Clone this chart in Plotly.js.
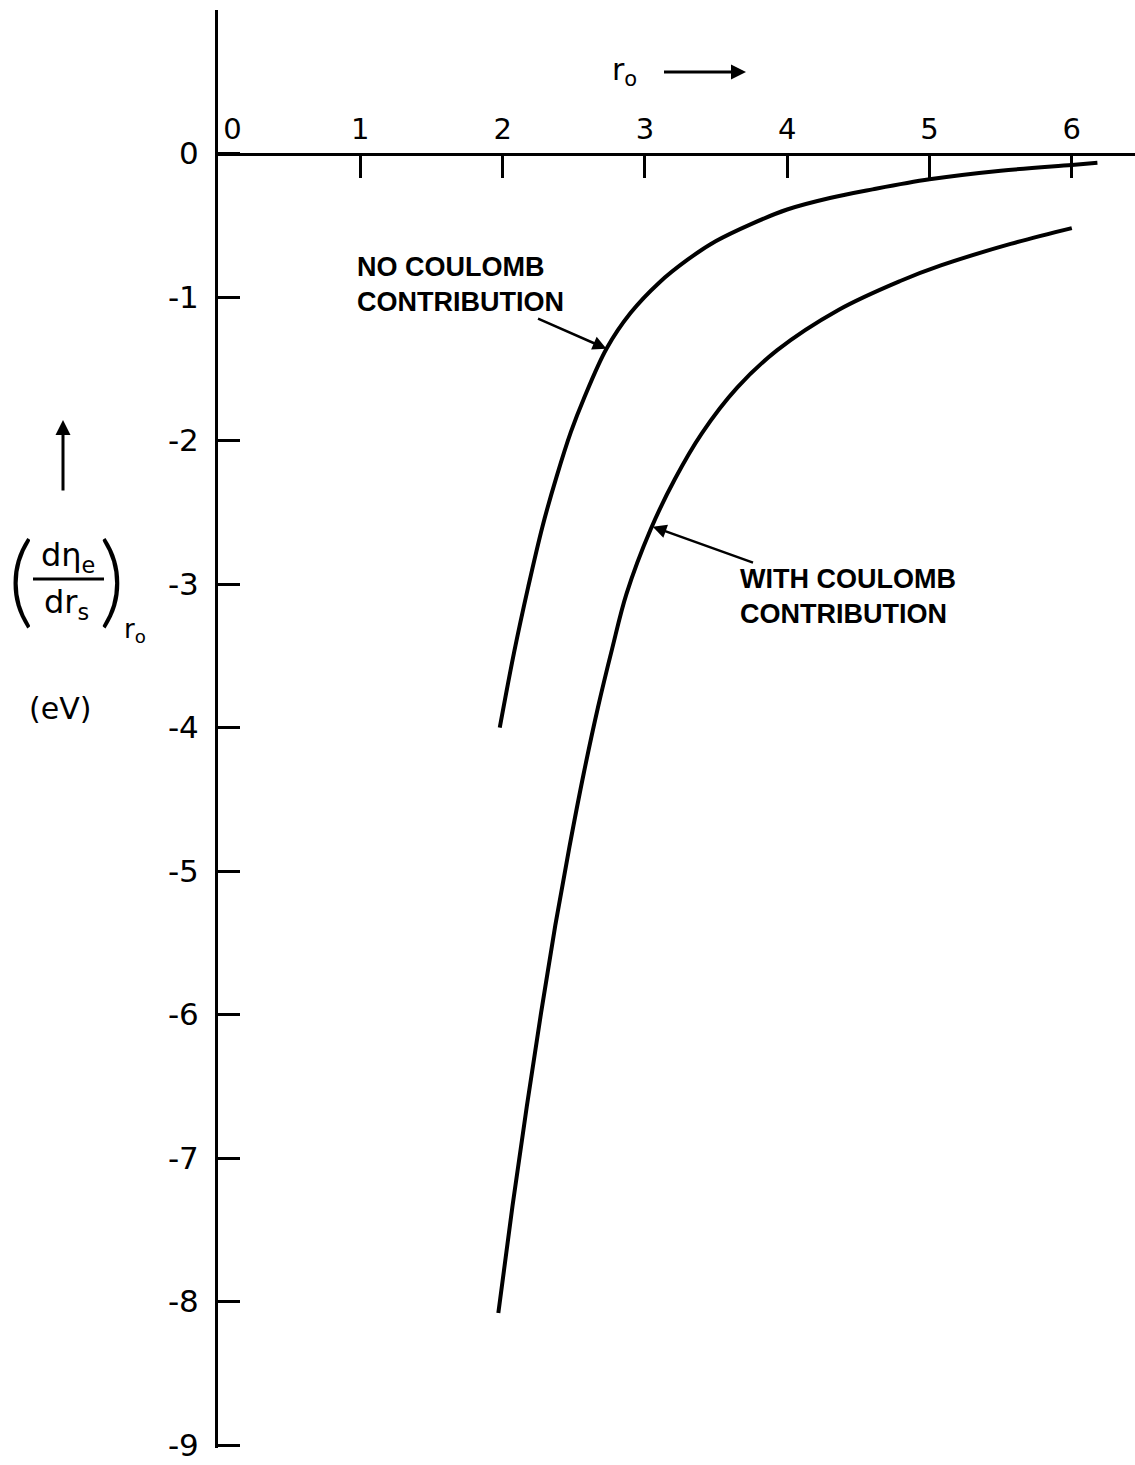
<!DOCTYPE html>
<html>
<head>
<meta charset="utf-8">
<script src="https://cdn.plot.ly/plotly-3.0.1.min.js"></script>
<style>html,body{margin:0;padding:0;background:#fff;}#chart{width:1135px;height:1465px;}</style>
</head>
<body>
<div id="chart"></div>
<script>
// ---- data ----
const r0NoCoulomb = [1.98, 2.08, 2.18, 2.28, 2.38, 2.48, 2.57, 2.73, 2.90, 3.10, 3.30, 3.50, 3.75, 4.00, 4.30, 4.60, 5.00, 5.50, 6.00, 6.18];
const dEtaNoCoulomb = [-4.00, -3.48, -3.02, -2.60, -2.25, -1.94, -1.71, -1.36, -1.11, -0.90, -0.74, -0.61, -0.49, -0.39, -0.31, -0.25, -0.18, -0.12, -0.08, -0.065];

const r0WithCoulomb = [1.97, 2.07, 2.17, 2.27, 2.37, 2.47, 2.57, 2.67, 2.77, 2.87, 3.04, 3.21, 3.40, 3.65, 3.93, 4.36, 4.79, 5.08, 5.57, 6.00];
const dEtaWithCoulomb = [-8.08, -7.33, -6.64, -5.99, -5.38, -4.83, -4.32, -3.86, -3.45, -3.07, -2.62, -2.27, -1.95, -1.63, -1.37, -1.09, -0.89, -0.78, -0.63, -0.52];

const xTickVals = [0, 1, 2, 3, 4, 5, 6];
const xTickText = ['\u20030', '1', '2', '3', '4', '5', '6'];
const yTickVals = [0, -1, -2, -3, -4, -5, -6, -7, -8, -9];
const yTickText = ['0', '-1', '-2', '-3', '-4', '-5', '-6', '-7', '-8', '-9'];

const labelNo = 'NO COULOMB<br>CONTRIBUTION';
const labelWith = 'WITH COULOMB<br>CONTRIBUTION';

// ---- figure ----
const FONT = 'Liberation Sans, Arial, sans-serif';
const TFONT = 'DejaVu Sans, sans-serif';
const lineStyle = {color: '#000', width: 4, shape: 'spline', smoothing: 1.0};

const traces = [
  {x: r0NoCoulomb, y: dEtaNoCoulomb, mode: 'lines', line: lineStyle, name: 'no coulomb', hoverinfo: 'skip'},
  {x: r0WithCoulomb, y: dEtaWithCoulomb, mode: 'lines', line: lineStyle, name: 'with coulomb', hoverinfo: 'skip'}
];

const W = 1135, H = 1465, ML = 218, MR = 0, MT = 10, MB = 17;
const PW = W - ML - MR, PH = H - MT - MB;
const Y0 = -9.02, Y1 = 1.0;
const px = v => (v - ML) / PW;          // pixel -> paper x
const py = v => 1 - (v - MT) / PH;      // pixel -> paper y
const pa = {xref: 'paper', yref: 'paper', xanchor: 'center', yanchor: 'middle', showarrow: false};

const annotations = [
  // curve labels with their pointer arrows
  {xref: 'x', yref: 'y', x: 2.73, y: -1.36, ax: -146, ay: -64, align: 'left',
   text: labelNo, showarrow: true, arrowhead: 2, arrowsize: 1.1, arrowwidth: 2.5, arrowcolor: '#000',
   font: {family: FONT, size: 27, color: '#000', weight: 'bold'}},
  {xref: 'x', yref: 'y', x: 3.055, y: -2.60, ax: 195, ay: 70, align: 'left',
   text: labelWith, showarrow: true, arrowhead: 2, arrowsize: 1.1, arrowwidth: 2.5, arrowcolor: '#000',
   font: {family: FONT, size: 27, color: '#000', weight: 'bold'}},
  // x axis title r_o -->
  Object.assign({}, pa, {x: px(746), y: py(72), ax: -122, ay: 0, showarrow: true, startstandoff: 26,
   text: 'r<sub>o</sub>', arrowhead: 2, arrowsize: 1.0, arrowwidth: 3, arrowcolor: '#000',
   font: {family: TFONT, size: 30, color: '#000'}}),
  // y axis title
  Object.assign({}, pa, {x: px(63), y: py(420), ax: 0, ay: 72, text: '', showarrow: true,
   arrowhead: 2, arrowsize: 1.0, arrowwidth: 3, arrowcolor: '#000'}),
  Object.assign({}, pa, {x: px(21), y: py(576), text: '(',
   font: {family: 'Lato, sans-serif', size: 100, color: '#000', weight: 300}}),
  Object.assign({}, pa, {x: px(112), y: py(576), text: ')',
   font: {family: 'Lato, sans-serif', size: 100, color: '#000', weight: 300}}),
  Object.assign({}, pa, {x: px(68), y: py(557), text: 'dη<sub>e</sub>',
   font: {family: TFONT, size: 32, color: '#000'}}),
  Object.assign({}, pa, {x: px(66), y: py(604), text: 'dr<sub>s</sub>',
   font: {family: TFONT, size: 32, color: '#000'}}),
  Object.assign({}, pa, {x: px(135), y: py(630), text: 'r<sub>o</sub>',
   font: {family: TFONT, size: 26, color: '#000'}}),
  Object.assign({}, pa, {x: px(60), y: py(708), text: '(eV)',
   font: {family: TFONT, size: 30, color: '#000'}})
];

const shapes = [
  {type: 'line', xref: 'paper', yref: 'paper', x0: px(33), x1: px(104), y0: py(579), y1: py(579),
   line: {color: '#000', width: 3}}
];

const layout = {
  width: W, height: H,
  margin: {l: ML, r: MR, t: MT, b: MB, pad: 0},
  paper_bgcolor: '#fff', plot_bgcolor: '#fff',
  showlegend: false,
  font: {family: FONT, color: '#000'},
  xaxis: {
    range: [0, PW / 142.3], side: 'top', anchor: 'free', position: -Y0 / (Y1 - Y0),
    tickmode: 'array', tickvals: xTickVals, ticktext: xTickText,
    ticks: 'inside', ticklen: 22, tickwidth: 3, tickcolor: '#000',
    showline: true, linewidth: 3, linecolor: '#000',
    showgrid: false, zeroline: false, ticklabelstandoff: 2,
    tickfont: {family: TFONT, size: 29, color: '#000'}
  },
  yaxis: {
    range: [Y0, Y1],
    tickmode: 'array', tickvals: yTickVals, ticktext: yTickText,
    ticks: 'inside', ticklen: 22, tickwidth: 3, tickcolor: '#000',
    showline: true, linewidth: 3, linecolor: '#000',
    showgrid: false, zeroline: false, ticklabelstandoff: 10,
    ticklabeloverflow: 'allow',
    tickfont: {family: TFONT, size: 31, color: '#000'}
  },
  annotations: annotations,
  shapes: shapes
};

Plotly.newPlot('chart', traces, layout, {displayModeBar: false, staticPlot: true});
</script>
</body>
</html>
